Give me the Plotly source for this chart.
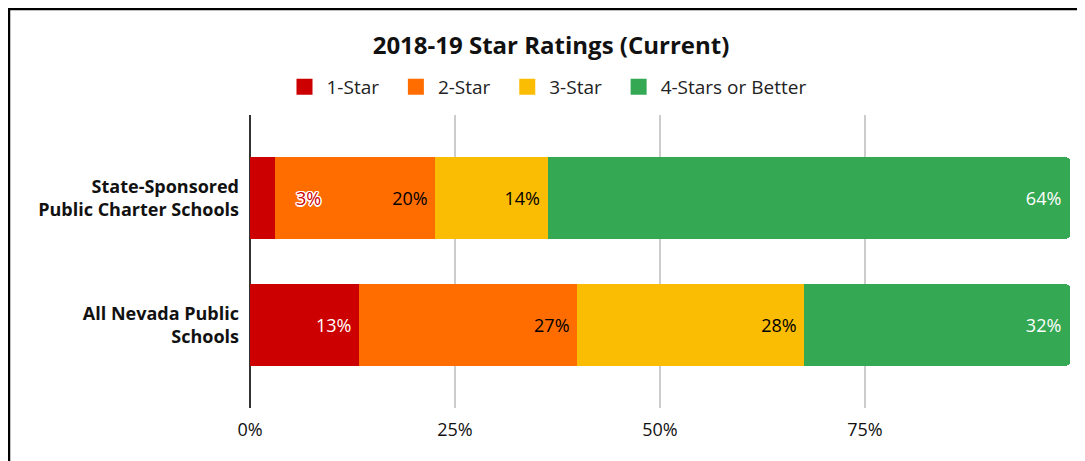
import plotly.graph_objects as go

categories = ["State-Sponsored<br>Public Charter Schools", "All Nevada Public<br>Schools"]
series_names = ["1-Star", "2-Star", "3-Star", "4-Stars or Better"]
one_star = [3.0, 13.3]
two_star = [19.6, 26.6]
three_star = [13.7, 27.7]
four_plus = [63.7, 32.4]
tick_vals = [0, 25, 50, 75, 100]
tick_text = ["0%", "25%", "50%", "75%", ""]

colors = ["#cc0000", "#ff6d01", "#fbbc04", "#34a853"]
label_colors = ["white", "black", "black", "white"]
FONT = "Open Sans, Noto Sans, sans-serif"

# page has an 8px body margin; figure coordinates = screen coordinates - 8
OFF = 8
W, H = 1085 - OFF, 461 - OFF
L, R, T, B = 250 - OFF, W - (1070 - OFF), 115 - OFF, H - (408 - OFF)
PW, PH = W - L - R, H - T - B

def px(x):  # screen x -> paper
    return (x - OFF - L) / PW

def py(y):  # screen y -> paper
    return (H - B - (y - OFF)) / PH

fig = go.Figure()
all_vals = [one_star, two_star, three_star, four_plus]
for i, (name, vals) in enumerate(zip(series_names, all_vals)):
    tt = ["%{x:.0f}%\u00a0"] * len(vals)
    if i == 0:
        tt[0] = ""  # too narrow; label drawn as annotation
    fig.add_trace(go.Bar(
        name=name, y=categories, x=vals, orientation="h",
        marker=dict(color=colors[i], line=dict(width=0)),
        texttemplate=tt, textposition="inside", insidetextanchor="end",
        textfont=dict(color=label_colors[i], size=18, family=FONT),
        constraintext="none", hoverinfo="skip", showlegend=False, legendgroup=name,
    ))
# legend entries with large square swatches
for i, name in enumerate(series_names):
    fig.add_trace(go.Scatter(
        name=name + ("\u00a0\u00a0" if i < len(series_names) - 1 else ""),
        x=[None], y=[None], mode="markers", legendgroup=name,
        marker=dict(symbol="square", size=21, color=colors[i]), hoverinfo="skip",
    ))

# small 1-star label for first category, drawn beside the thin segment
fig.add_annotation(
    x=one_star[0], y=categories[0], xref="x", yref="y",
    text=f"{one_star[0]:.0f}%", showarrow=False, xanchor="left", xshift=19,
    font=dict(color="#cc0000", size=18, family=FONT,
              shadow="1px 1px 0 white, -1px -1px 0 white, 1px -1px 0 white, -1px 1px 0 white, 0 1.5px 0 white, 0 -1.5px 0 white, 1.5px 0 0 white, -1.5px 0 0 white"),
)

# outer frame (left and top borders)
fig.add_shape(type="line", xref="paper", yref="paper", x0=px(9), x1=px(9), y0=py(8), y1=py(480),
              line=dict(color="black", width=2.5))
fig.add_shape(type="line", xref="paper", yref="paper", x0=px(8), x1=px(1100), y0=py(9), y1=py(9),
              line=dict(color="black", width=2.5))

fig.update_layout(
    width=W, height=H,
    margin=dict(l=L, r=R, t=T, b=B),
    barmode="stack", bargap=0.36,
    barcornerradius=4,
    paper_bgcolor="white", plot_bgcolor="white",
    font=dict(family=FONT, color="#222222"),
    title=dict(text="<b>2018-19 Star Ratings (Current)</b>", x=(551 - OFF) / W, xref="container",
               xanchor="center", y=1 - (46 - OFF) / H, yanchor="middle",
               font=dict(size=24, color="#111111", family=FONT)),
    legend=dict(orientation="h", x=px(547), xanchor="center", y=py(87), yanchor="middle",
                font=dict(size=19, color="#222222", family=FONT), traceorder="normal",
                itemwidth=34, itemsizing="trace"),
    showlegend=True,
    xaxis=dict(range=[0, 100], tickvals=tick_vals, ticktext=tick_text,
               showgrid=True, gridcolor="#cccccc", gridwidth=1.5,
               zeroline=True, zerolinecolor="#333333", zerolinewidth=1.5,
               ticks="", ticklabelstandoff=9,
               tickfont=dict(size=18, color="#111111", family=FONT), fixedrange=True),
    yaxis=dict(categoryorder="array", categoryarray=categories,
               tickvals=categories, ticktext=["<b>" + c + "</b>" for c in categories],
               range=[1.654, -0.654], showgrid=False, zeroline=False,
               ticks="", ticklabelstandoff=10,
               tickfont=dict(size=18, color="#111111", family=FONT), fixedrange=True),
)

fig.write_html("out.html")
